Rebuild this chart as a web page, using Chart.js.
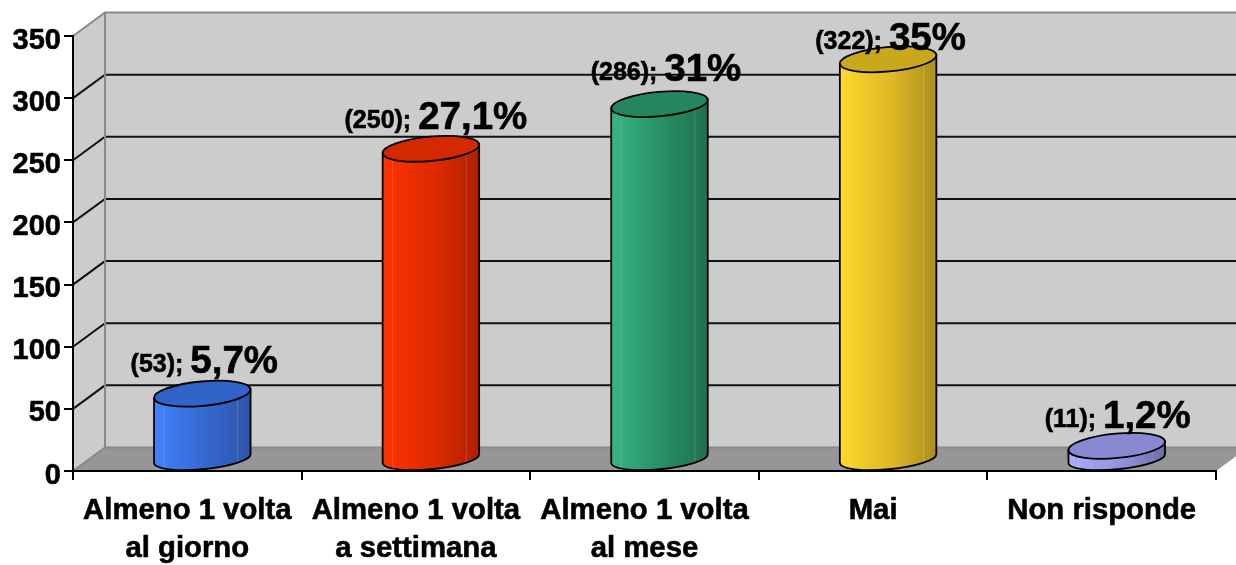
<!DOCTYPE html>
<html>
<head>
<meta charset="utf-8">
<title>Frequenza</title>
<script src="https://cdn.jsdelivr.net/npm/chart.js@4"></script>
<style>
  html, body { margin: 0; padding: 0; background: #fff; overflow: hidden; }
  canvas { display: block; }
</style>
</head>
<body>
<canvas id="grafico" width="1236" height="565"></canvas>
<script>
// dati
const categorie = [
    ['Almeno 1 volta', 'al giorno'],
    ['Almeno 1 volta', 'a settimana'],
    ['Almeno 1 volta', 'al mese'],
    'Mai',
    'Non risponde'
];
const risposte = [53, 250, 286, 322, 11];
const percentuali = ['5,7%', '27,1%', '31%', '35%', '1,2%'];
const tickMax = 350;
const tickStep = 50;

// colori dei cilindri: lato chiaro, centro, lato scuro, tappo
const coloriChiari = ['#4083FF', '#FF3300', '#37B585', '#FFD82B', '#ABABFF'];
const coloriMedi = ['#3567CC', '#DC2A00', '#288C66', '#DDB826', '#9292DC'];
const coloriScuri = ['#2B55A8', '#AE2000', '#1F7050', '#A98E1C', '#6E6EA8'];
const coloriTappo = ['#3163C8', '#D42800', '#25855F', '#C9A81E', '#8989D2'];

// spostamento delle etichette rispetto al cilindro
const etichettaDx = [2, 5, 6.5, 2.5, 1];
const etichettaDy = [-20.5, -20, -23.5, -9.5, -17.5];

const FONT = '"Liberation Sans", Arial, sans-serif';
const PROF_X = 32;    // profondita del pavimento
const PROF_Y = 23.5;
const CIL_X = 15;     // cilindro rispetto alla categoria
const CIL_Y = -11.5;
const RY = 12.2;
const RY_BASE = 10.8;
const TILT = 5.3 * Math.PI / 180;

function gradiente(ctx, el, i) {
    if (!Number.isFinite(el.x) || !Number.isFinite(el.width)) return coloriChiari[i];
    const g = ctx.createLinearGradient(el.x - el.width / 2, 0, el.x + el.width / 2, 0);
    g.addColorStop(0, coloriChiari[i]);
    g.addColorStop(0.55, coloriMedi[i]);
    g.addColorStop(1, coloriScuri[i]);
    return g;
}

function sagoma(ctx, el) {
    const rx = el.width / 2;
    const tx = rx * Math.cos(TILT);
    const ty = rx * Math.sin(TILT);
    ctx.moveTo(el.x - tx, el.y + ty);
    ctx.lineTo(el.x - tx, el.base + ty);
    ctx.ellipse(el.x, el.base, rx, RY_BASE, -TILT, Math.PI, 0, true);
    ctx.lineTo(el.x + tx, el.y - ty);
    ctx.closePath();
}

const pareti = {
    id: 'pareti',
    beforeDraw(chart) {
        const { ctx, chartArea: a, scales: { y } } = chart;
        const w = chart.width;
        const bx = a.left + PROF_X;
        const topY = a.top - PROF_Y;
        const floorY = a.bottom - PROF_Y;
        ctx.save();
        ctx.fillStyle = '#CCCCCC';
        ctx.fillRect(bx, topY, w - bx, floorY - topY);
        ctx.beginPath();
        ctx.moveTo(a.left, a.top);
        ctx.lineTo(bx, topY);
        ctx.lineTo(bx, floorY);
        ctx.lineTo(a.left, a.bottom);
        ctx.closePath();
        ctx.fill();
        // pavimento
        ctx.fillStyle = '#969696';
        ctx.beginPath();
        ctx.moveTo(a.left, a.bottom);
        ctx.lineTo(bx, floorY);
        ctx.lineTo(w, floorY);
        ctx.lineTo(w, a.bottom - (w - a.right) * PROF_Y / PROF_X);
        ctx.lineTo(a.right, a.bottom);
        ctx.closePath();
        ctx.fill();
        // griglia sulle pareti
        ctx.lineWidth = 2;
        y.ticks.forEach(t => {
            const py = y.getPixelForValue(t.value);
            const isBordo = t.value === 0 || t.value === tickMax;
            ctx.strokeStyle = isBordo ? '#8A8A8A' : '#111111';
            ctx.beginPath();
            ctx.moveTo(a.left, py);
            ctx.lineTo(bx, py - PROF_Y);
            ctx.lineTo(w, py - PROF_Y);
            ctx.stroke();
        });
        ctx.strokeStyle = '#8A8A8A';
        ctx.beginPath();
        ctx.moveTo(bx, topY);
        ctx.lineTo(bx, floorY);
        ctx.stroke();
        ctx.restore();
    }
};

const cilindri = {
    id: 'cilindri',
    beforeDatasetDraw(chart, args) {
        const { ctx } = chart;
        ctx.save();
        ctx.translate(CIL_X, CIL_Y);
        ctx.beginPath();
        args.meta.data.forEach(el => sagoma(ctx, el));
        ctx.clip();
    },
    afterDatasetDraw(chart, args) {
        const { ctx } = chart;
        ctx.restore();
        ctx.save();
        ctx.translate(CIL_X, CIL_Y);
        args.meta.data.forEach((el, i) => {
            const rx = el.width / 2;
            // parte sotto la base, il rettangolo della barra finisce li
            ctx.save();
            ctx.beginPath();
            sagoma(ctx, el);
            ctx.clip();
            ctx.fillStyle = gradiente(ctx, el, i);
            ctx.fillRect(el.x - rx - 1, el.base - 1, el.width + 2, RY + 8);
            // riflessi sottili sul lato
            ctx.fillStyle = 'rgba(255,255,255,0.16)';
            ctx.fillRect(el.x - rx * 0.8, el.y, 1, el.base - el.y + RY_BASE);
            ctx.fillRect(el.x + rx * 0.72, el.y, 1, el.base - el.y + RY_BASE);
            ctx.restore();

            ctx.strokeStyle = '#000';
            ctx.lineWidth = 1.8;
            ctx.beginPath();
            sagoma(ctx, el);
            ctx.stroke();

            ctx.fillStyle = coloriTappo[i];
            ctx.beginPath();
            ctx.ellipse(el.x, el.y, rx, RY, -TILT, 0, Math.PI * 2);
            ctx.fill();
            ctx.stroke();
        });
        ctx.restore();
    },
    afterDatasetsDraw(chart) {
        const { ctx } = chart;
        const meta = chart.getDatasetMeta(0);
        ctx.save();
        ctx.fillStyle = '#000';
        ctx.strokeStyle = '#000';
        ctx.lineWidth = 0.6;
        ctx.textAlign = 'left';
        ctx.textBaseline = 'alphabetic';
        meta.data.forEach((el, i) => {
            const piccolo = '(' + risposte[i] + '); ';
            ctx.font = 'bold 25px ' + FONT;
            const w1 = ctx.measureText(piccolo).width;
            ctx.font = 'bold 38.5px ' + FONT;
            const w2 = ctx.measureText(percentuali[i]).width;
            const x0 = el.x + CIL_X + etichettaDx[i] - (w1 + w2) / 2;
            const yb = el.y + CIL_Y + etichettaDy[i];
            ctx.fillText(percentuali[i], x0 + w1, yb);
            ctx.strokeText(percentuali[i], x0 + w1, yb);
            ctx.font = 'bold 25px ' + FONT;
            ctx.fillText(piccolo, x0, yb - 1);
            ctx.strokeText(piccolo, x0, yb - 1);
        });
        ctx.restore();
    }
};

new Chart(document.getElementById('grafico').getContext('2d'), {
    type: 'bar',
    data: {
        labels: categorie,
        datasets: [{
            data: risposte,
            clip: false,
            barPercentage: 0.424,
            categoryPercentage: 1,
            borderWidth: 0,
            backgroundColor(c) {
                if (c.type !== 'data') return '#888';
                const x = c.chart.scales.x;
                if (!x) return coloriChiari[c.dataIndex];
                const el = { x: x.getPixelForTick(c.dataIndex), width: x.width / categorie.length * 0.424 };
                return gradiente(c.chart.ctx, el, c.dataIndex);
            }
        }]
    },
    options: {
        responsive: false,
        animation: false,
        layout: { padding: { top: 36, right: 20, left: 0, bottom: 0 } },
        plugins: { legend: { display: false }, tooltip: { enabled: false } },
        scales: {
            x: {
                afterFit(s) { s.height = 94; },
                grid: { drawOnChartArea: false, color: '#000', lineWidth: 2, tickLength: 9, offset: true },
                border: { color: '#000', width: 2 },
                ticks: {
                    color: '#000',
                    maxRotation: 0,
                    autoSkip: false,
                    padding: 12,
                    textStrokeColor: '#000',
                    textStrokeWidth: 0.6,
                    font: { family: FONT, size: 29.3, weight: 'bold', lineHeight: 1.3 }
                }
            },
            y: {
                min: 0,
                max: tickMax,
                afterFit(s) { s.width = 73; },
                grid: { drawOnChartArea: false, color: '#000', lineWidth: 2, tickLength: 9 },
                border: { color: '#000', width: 2 },
                ticks: {
                    stepSize: tickStep,
                    color: '#000',
                    padding: 3,
                    labelOffset: 4.5,
                    textStrokeColor: '#000',
                    textStrokeWidth: 0.6,
                    font: { family: FONT, size: 29, weight: 'bold' }
                }
            }
        }
    },
    plugins: [pareti, cilindri]
});
</script>
</body>
</html>
